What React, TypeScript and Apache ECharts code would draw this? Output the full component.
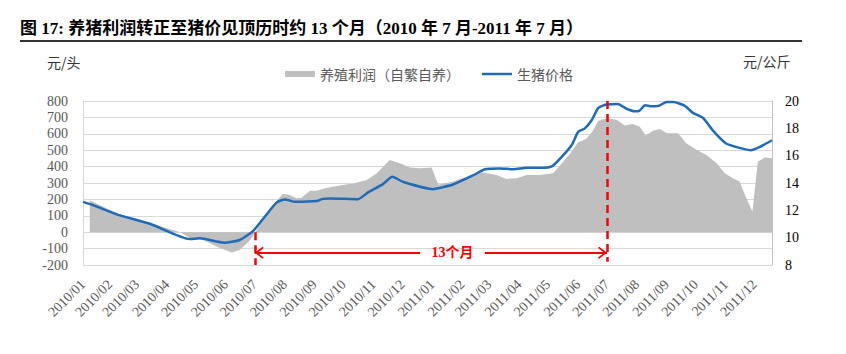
import { useEffect, useRef } from 'react';
import * as echarts from 'echarts';

// ---- data (x in weeks counted from 2010-01-04) ----
const tickLabels = [
  '2010/01', '2010/02', '2010/03', '2010/04', '2010/05', '2010/06',
  '2010/07', '2010/08', '2010/09', '2010/10', '2010/11', '2010/12',
  '2011/01', '2011/02', '2011/03', '2011/04', '2011/05', '2011/06',
  '2011/07', '2011/08', '2011/09', '2011/10', '2011/11', '2011/12',
];

const profitName = '养殖利润（自繁自养）';
const priceName = '生猪价格';

const priceWeeks = [
  0, 1.5, 5, 10, 15.8, 17.3, 20.9, 23.2, 25.2, 26.9, 28.7, 29.9, 31.4, 34.6, 35.5,
  36.6, 40.7, 42.2, 44.4, 45.8, 47.4, 51.8, 53.3, 54.8, 57.8, 59.5, 61.7, 63.7, 65.7,
  67.6, 69.4, 71.1, 72.4, 73.3, 74.3, 75.3, 76.3, 77.5, 79.2, 80.4, 81.7, 82.4, 83.2,
  84.2, 85.2, 86.4, 87.4, 89.1, 90.3, 91.8, 93.3, 95.2, 97.2, 98.9, 100.2, 102,
];
const priceValues = [
  12.62, 12.38, 11.7, 11.0, 9.9, 9.95, 9.63, 9.83, 10.5, 11.53, 12.58, 12.8, 12.62, 12.68, 12.84,
  12.87, 12.82, 13.31, 13.92, 14.45, 14.08, 13.55, 13.7, 13.89, 14.57, 15.01, 15.06, 15.01, 15.11,
  15.11, 15.21, 16.04, 16.82, 17.74, 18.0, 18.59, 19.49, 19.74, 19.78, 19.45, 19.25, 19.3, 19.69,
  19.61, 19.64, 19.93, 19.93, 19.64, 19.13, 18.76, 17.81, 16.89, 16.57, 16.4, 16.64, 17.13,
];

const profitWeeks = [
  1, 5, 10, 14.4, 15.8, 17.3, 18.3, 19.8, 22.0, 23.2, 24.7, 25.4, 27.7, 29.6, 30.6,
  31.6, 32.3, 33.6, 34.6, 35.8, 38.0, 40.2, 42.0, 43.5, 45.4, 46.9, 48.4, 49.9, 51.6, 52.6,
  54.8, 55.8, 57.8, 59.0, 61.2, 62.7, 64.2, 65.7, 67.6, 69.6, 71.1, 72.1, 73.3, 74.5, 75.5,
  76.3, 77.5, 79.0, 80.2, 81.4, 82.4, 83.3, 84.4, 85.4, 86.4, 88.1, 89.3, 90.8, 92.3, 93.8,
  95.0, 96.2, 97.2, 98.2, 99.1, 99.9, 100.9, 102,
];
const profitValues = [
  195, 115, 55, 0, -35, -40, -57, -88, -124, -108, -51, -6, 146, 234, 227,
  207, 208, 252, 252, 268, 284, 299, 319, 360, 441, 421, 394, 390, 394, 290,
  309, 325, 349, 366, 349, 325, 329, 349, 349, 360, 430, 480, 549, 569, 620,
  679, 695, 685, 650, 659, 644, 589, 618, 630, 604, 604, 543, 502, 471, 421,
  360, 329, 309, 207, 126, 430, 455, 451,
];

// annotation
const spanFrom = '2010/07';
const spanTo = '2011/07';
const spanText = '13个月';
const spanY = -125;
const spanGap = [49.9, 59.5];
const spanTextWeek = 54.7;

const titleText = '图 17: 养猪利润转正至猪价见顶历时约 13 个月（2010 年 7 月-2011 年 7 月）';

const weekOf = (label: string) => {
  const [y, m] = label.split('/').map(Number);
  const w = (Date.UTC(y, m - 1, 1) - Date.UTC(2010, 0, 4)) / (7 * 86400000);
  return Math.max(0, w);
};
const tickPositions = tickLabels.map(weekOf);
const labelFor = (v: number) => {
  const i = tickPositions.findIndex((p) => Math.abs(p - v) < 1e-6);
  return i >= 0 ? tickLabels[i] : '';
};

const serif = "'Liberation Serif', 'Noto Sans CJK SC', serif";
const cjk = "'Noto Sans CJK SC', sans-serif";
const chevron = 'path://M60,-90 M60,0 L120,78 L108,90 L60,28 L12,90 L0,78 Z';

export default function App() {
  const ref = useRef<HTMLDivElement>(null);
  useEffect(() => {
    const chart = echarts.init(ref.current!, null, { renderer: 'svg' });
    const wFrom = weekOf(spanFrom);
    const wTo = weekOf(spanTo);
    const arrowStyle = { type: 'solid', width: 2, color: '#ff0000' };
    chart.setOption({
      animation: false,
      backgroundColor: '#ffffff',
      grid: { left: 83, right: 74, top: 101, bottom: 89, outerBoundsMode: 'none' },
      graphic: [
        {
          type: 'text', left: 20, top: 20,
          style: { text: titleText, fontSize: 17, fontWeight: 'bold', fontFamily: serif, fill: '#000' },
        },
        {
          type: 'line', shape: { x1: 20, y1: 41, x2: 802, y2: 41 },
          style: { stroke: '#333', lineWidth: 2 },
        },
        { type: 'text', left: 47, top: 55, style: { text: '元/头', fontSize: 14, fontFamily: cjk, fill: '#333' } },
        { type: 'text', left: 743, top: 54, style: { text: '元/公斤', fontSize: 14, fontFamily: cjk, fill: '#333' } },
      ],
      legend: {
        left: 280, top: 62, itemWidth: 30, itemHeight: 6, itemGap: 22, selectedMode: false,
        textStyle: { fontSize: 14, color: '#595959', fontFamily: cjk },
        data: [
          { name: profitName, icon: 'rect', itemStyle: { color: '#bfbfbf', borderWidth: 0 } },
          { name: priceName, icon: 'path://M0,0 H30 V2.5 H0 Z', itemStyle: { color: '#1f6bb8', borderWidth: 0 } },
        ],
      },
      xAxis: {
        type: 'value', min: 0, max: 102,
        axisLine: { show: false, onZero: false },
        axisTick: { show: false },
        splitLine: { show: false },
        axisLabel: {
          customValues: tickPositions,
          formatter: (v: number) => labelFor(v),
          rotate: 45, margin: 17, color: '#595959', fontSize: 14, fontFamily: serif,
        },
      },
      yAxis: [
        {
          type: 'value', min: -200, max: 800, interval: 100, position: 'left',
          axisLine: { show: true, onZero: false, lineStyle: { color: '#d9d9d9' } },
          axisTick: { show: false },
          axisLabel: { color: '#595959', fontSize: 14, fontFamily: serif, margin: 15 },
          splitLine: { lineStyle: { color: '#d9d9d9', width: 1 } },
        },
        {
          type: 'value', min: 8, max: 20, interval: 2, position: 'right',
          axisLine: { show: true, onZero: false, lineStyle: { color: '#bfbfbf' } },
          axisTick: { show: false },
          axisLabel: { color: '#000', fontSize: 14, fontFamily: serif, margin: 13 },
          splitLine: { show: false },
        },
      ],
      series: [
        {
          name: profitName, type: 'line', yAxisIndex: 0,
          data: profitWeeks.map((w, i) => [w, profitValues[i]]),
          symbol: 'none', showSymbol: false,
          lineStyle: { width: 0 },
          itemStyle: { color: '#bfbfbf' },
          areaStyle: { color: '#bfbfbf', opacity: 1 },
          markLine: {
            silent: true, symbol: ['none', 'none'],
            label: { show: false },
            lineStyle: { color: '#ff0000', width: 2.5, type: [8, 5] },
            data: [
              [{ coord: [wFrom, 0] }, { coord: [wFrom, -200] }],
              [{ coord: [wTo, 800] }, { coord: [wTo, -180] }],
              [
                { coord: [wFrom, spanY], symbol: chevron, symbolSize: [12, 18], lineStyle: arrowStyle },
                { coord: [spanGap[0], spanY], symbol: 'none' },
              ],
              [
                { coord: [spanGap[1], spanY], symbol: 'none', lineStyle: arrowStyle },
                { coord: [wTo, spanY], symbol: chevron, symbolSize: [12, 18] },
              ],
            ],
          },
          markPoint: {
            silent: true, symbol: 'circle', symbolSize: 2,
            itemStyle: { color: 'rgba(255,255,255,0)' },
            label: {
              show: true, position: 'inside', formatter: spanText, color: '#ff0000',
              fontSize: 14, fontWeight: 'bold', fontFamily: serif,
            },
            data: [{ name: 'span', coord: [spanTextWeek, spanY] }],
          },
        },
        {
          name: priceName, type: 'line', yAxisIndex: 1,
          data: priceWeeks.map((w, i) => [w, priceValues[i]]),
          symbol: 'none', showSymbol: false, smooth: 0.2,
          lineStyle: { width: 2.5, color: '#1f6bb8' },
          itemStyle: { color: '#1f6bb8' },
        },
      ],
    });
    return () => chart.dispose();
  }, []);
  return (
    <div
      ref={ref}
      style={{ position: 'absolute', left: 0, top: 0, width: 846, height: 354, background: '#fff' }}
    />
  );
}
